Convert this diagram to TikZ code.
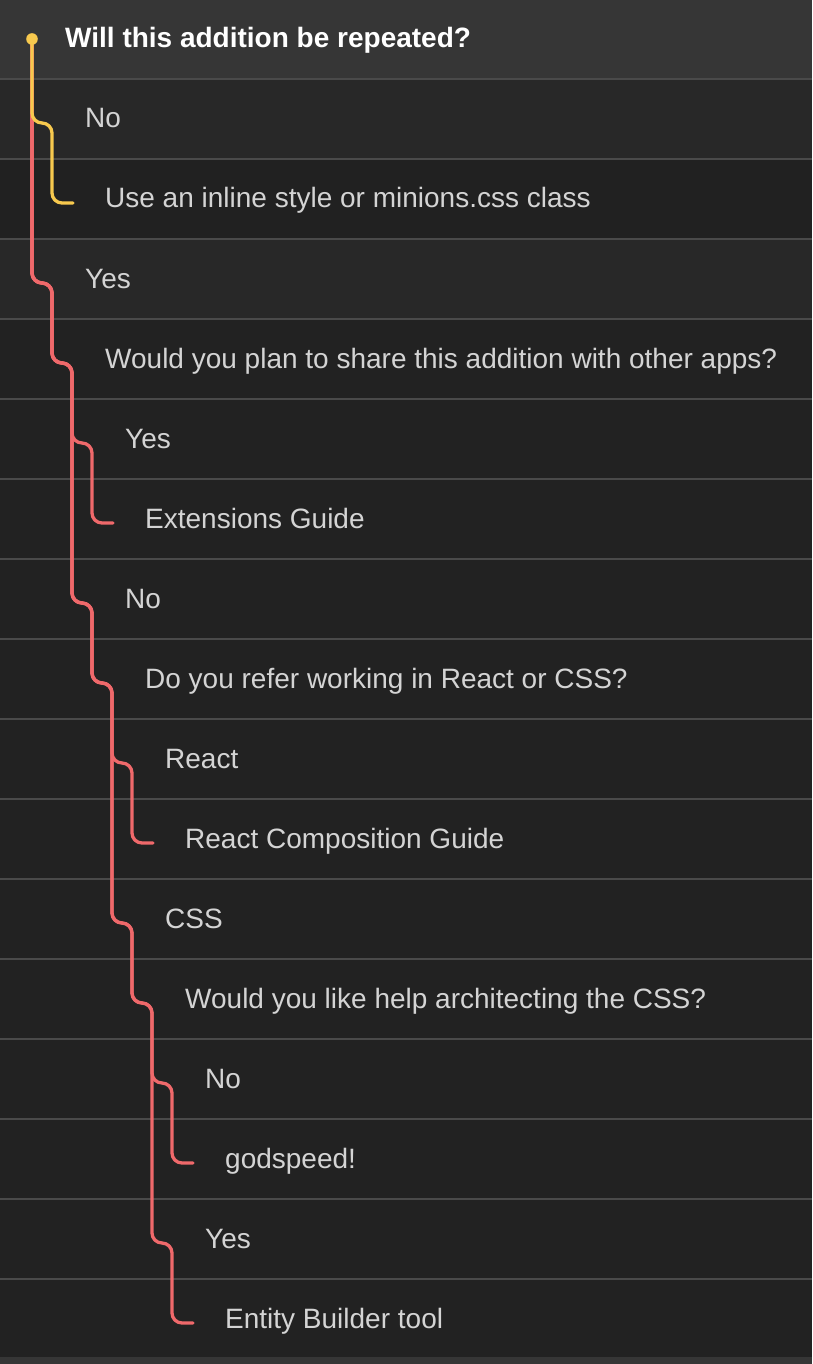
\documentclass[tikz,border=0pt]{standalone}
\usepackage{fontspec}
\setmainfont{Liberation Sans}
\definecolor{hdrbg}{HTML}{363636}
\definecolor{rowA}{HTML}{282828}
\definecolor{rowB}{HTML}{222222}
\definecolor{rowC}{HTML}{212121}
\definecolor{sepc}{HTML}{4A4A4A}
\definecolor{txt}{HTML}{D4D4D4}
\definecolor{yel}{HTML}{F7C94E}
\definecolor{redl}{HTML}{EF696B}
\tikzset{
  lbl/.style={anchor=base west, inner sep=0pt, text=txt, font=\fontsize{28pt}{33pt}\selectfont},
  hdrlbl/.style={anchor=base west, inner sep=0pt, text=white, font=\fontsize{28pt}{33pt}\selectfont\bfseries},
  wire/.style={line width=3.3pt, rounded corners=10pt, line cap=round, line join=round},
}
\begin{document}
\begin{tikzpicture}[x=1pt,y=-1pt]
\useasboundingbox (0,0) rectangle (812,1364);
% backgrounds
\fill[rowB] (0,0) rectangle (812,1364);
\fill[hdrbg] (0,0) rectangle (812,78);
\fill[rowA] (0,80) rectangle (812,158);
\fill[rowC] (0,160) rectangle (812,238);
\fill[rowA] (0,240) rectangle (812,318);
\foreach \i in {0,...,15} \fill[sepc] (0,{78+80*\i}) rectangle (812,{80+80*\i});
\fill[hdrbg] (0,1357) rectangle (812,1364);
% connector points
\coordinate (pRoot) at (32,39);
\coordinate (pN1) at (52,123);
\coordinate (pU2) at (73,203);
\coordinate (pY1) at (52,283);
\coordinate (pW2) at (72,363);
\coordinate (pY3) at (92,443);
\coordinate (pE4) at (113,523);
\coordinate (pN3) at (92,603);
\coordinate (pD4) at (112,683);
\coordinate (pR5) at (132,763);
\coordinate (pRC6) at (153,843);
\coordinate (pC5) at (132,923);
\coordinate (pWC6) at (152,1003);
\coordinate (pN7) at (172,1083);
\coordinate (pG8) at (193,1163);
\coordinate (pY7) at (172,1243);
\coordinate (pEB8) at (193,1323);
% red branches
\draw[wire, redl] (pRoot) |- (pY1) |- (pW2) |- (pY3) |- (pE4);
\draw[wire, redl] (pRoot) |- (pY1) |- (pW2) |- (pN3) |- (pD4) |- (pR5) |- (pRC6);
\draw[wire, redl] (pRoot) |- (pY1) |- (pW2) |- (pN3) |- (pD4) |- (pC5) |- (pWC6) |- (pN7) |- (pG8);
\draw[wire, redl] (pRoot) |- (pY1) |- (pW2) |- (pN3) |- (pD4) |- (pC5) |- (pWC6) |- (pY7) |- (pEB8);
% yellow branch
\draw[wire, yel] (pRoot) |- (pN1) |- (pU2);
\fill[yel] (pRoot) circle (5.8);
% labels
\node[hdrlbl] (root) at (65,48) {Will this addition be repeated?};
\node[lbl] (n1) at (85,128) {No};
\node[lbl] (u2) at (105,208) {Use an inline style or minions.css class};
\node[lbl] (y1) at (85,288) {Yes};
\node[lbl] (w2) at (105,368) {Would you plan to share this addition with other apps?};
\node[lbl] (y3) at (125,448) {Yes};
\node[lbl] (e4) at (145,528) {Extensions Guide};
\node[lbl] (n3) at (125,608) {No};
\node[lbl] (d4) at (145,688) {Do you refer working in React or CSS?};
\node[lbl] (r5) at (165,768) {React};
\node[lbl] (rc6) at (185,848) {React Composition Guide};
\node[lbl] (c5) at (165,928) {CSS};
\node[lbl] (wc6) at (185,1008) {Would you like help architecting the CSS?};
\node[lbl] (n7) at (205,1088) {No};
\node[lbl] (g8) at (225,1168) {godspeed!};
\node[lbl] (y7) at (205,1248) {Yes};
\node[lbl] (eb8) at (225,1328) {Entity Builder tool};
\end{tikzpicture}
\end{document}
